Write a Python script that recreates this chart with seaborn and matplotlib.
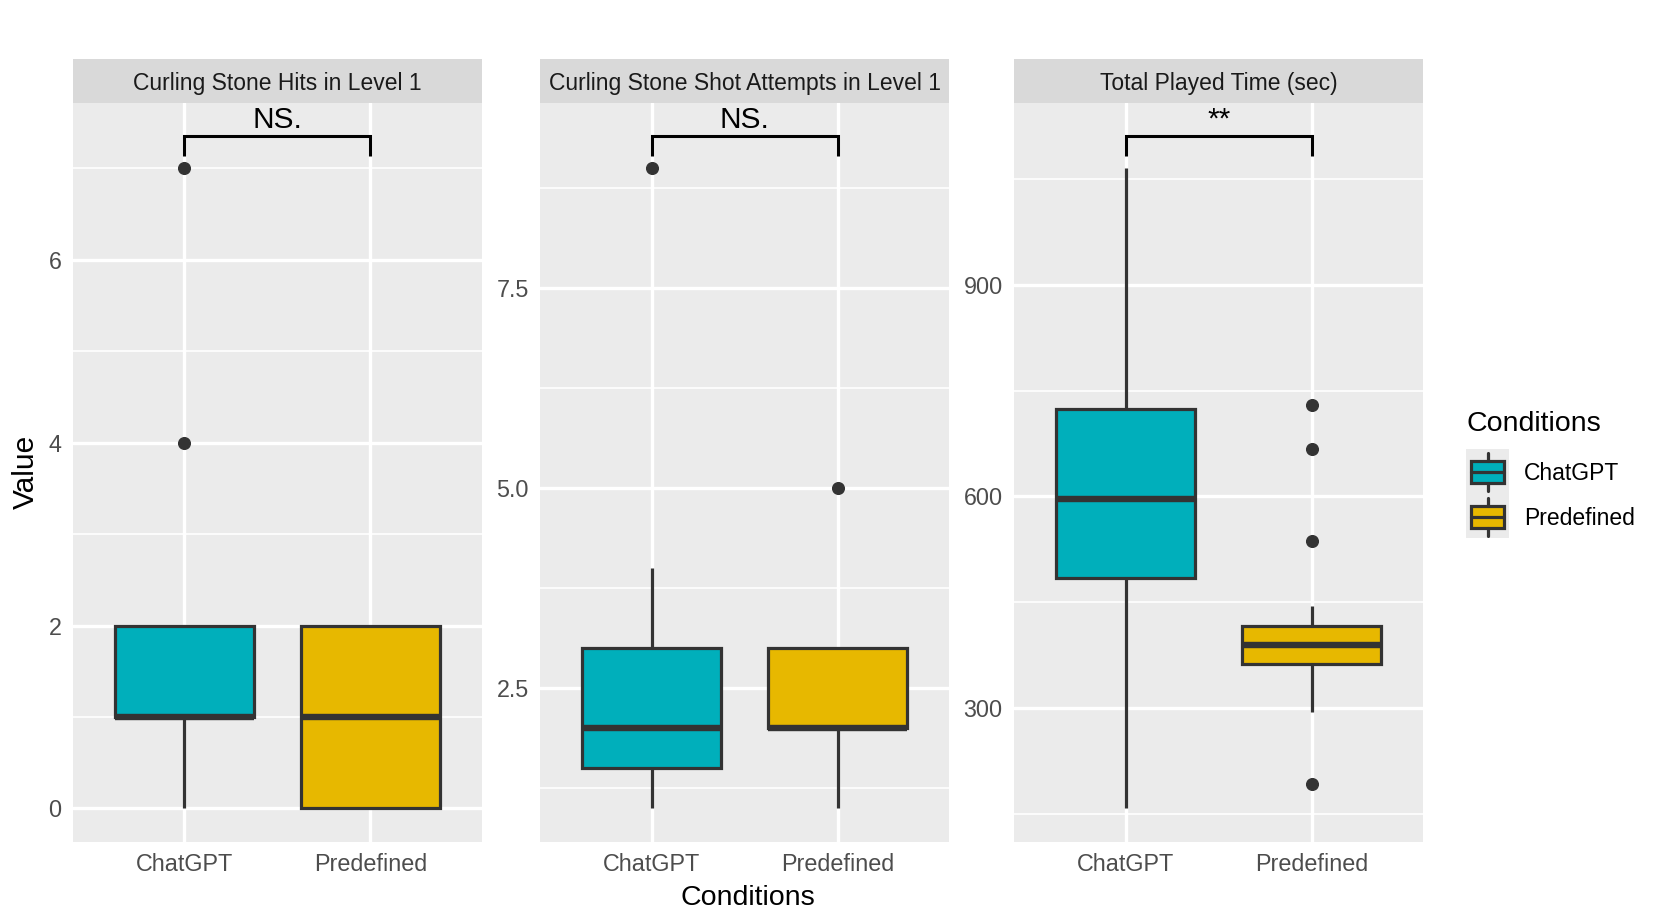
import matplotlib
matplotlib.use('Agg')
import matplotlib.pyplot as plt
import seaborn as sns
import numpy as np
import pandas as pd
from matplotlib.patches import Rectangle

# ---- data ----
conditions = ['ChatGPT', 'Predefined']
colors = ['#00AFBB', '#E7B800']
panel_titles = ['Curling Stone Hits in Level 1',
                'Curling Stone Shot Attempts in Level 1',
                'Total Played Time (sec)']
signif_labels = ['NS.', 'NS.', '**']

hits_chatgpt = [0, 0, 1, 1, 1, 1, 1, 2, 2, 2, 4, 7]
hits_predefined = [0, 0, 0, 0, 1, 1, 1, 2, 2, 2, 2, 2]
shots_chatgpt = [1, 1, 1, 2, 2, 2, 2, 3, 3, 4, 9]
shots_predefined = [1, 2, 2, 2, 2, 2, 3, 3, 3, 3, 5]
time_chatgpt = [158, 380, 450, 519, 560, 597, 650, 700, 749, 900, 1065]
time_predefined = [193, 294, 320, 345, 363, 370, 378, 385, 390, 398, 405,
                   412, 417, 445, 537, 667, 730]

y_ticks = [[0, 2, 4, 6], [2.5, 5.0, 7.5], [300, 600, 900]]
y_ticklabels = [['0', '2', '4', '6'], ['2.5', '5.0', '7.5'], ['300', '600', '900']]

panel_data = [(hits_chatgpt, hits_predefined),
              (shots_chatgpt, shots_predefined),
              (time_chatgpt, time_predefined)]

rows = []
for title, (a, b) in zip(panel_titles, panel_data):
    rows += [(title, conditions[0], v) for v in a]
    rows += [(title, conditions[1], v) for v in b]
df = pd.DataFrame(rows, columns=['Metric', 'Conditions', 'Value'])

# ---- style ----
sns.set_style('white')
plt.rcParams['font.family'] = ['Liberation Sans', 'DejaVu Sans']
palette = dict(zip(conditions, colors))

W, H = 1661, 923
fig = plt.figure(figsize=(W / 100, H / 100), dpi=100)

lefts = [72.7, 540, 1014]
pw = 409.3
top_px, bot_px = 102.7, 842
strip_px = 43.7
strip_h = strip_px / (bot_px - top_px)

for i, title in enumerate(panel_titles):
    ax = fig.add_axes([lefts[i] / W, 1 - bot_px / H, pw / W, (bot_px - top_px) / H])
    sub = df[df['Metric'] == title]
    sns.boxplot(data=sub, x='Conditions', y='Value', hue='Conditions',
                order=conditions, hue_order=conditions, palette=palette,
                saturation=1, width=0.75, linecolor='#333333', linewidth=2.3,
                legend=False, ax=ax, showcaps=False,
                medianprops={'linewidth': 4.6, 'color': '#333333'},
                flierprops={'marker': 'o', 'markersize': 8.4,
                            'markerfacecolor': '#333333',
                            'markeredgecolor': '#333333'})

    # significance bracket, placed like ggsignif (5% step, 3% tips)
    lo, hi = sub['Value'].min(), sub['Value'].max()
    rng = hi - lo
    yb = hi + 0.05 * rng
    tip = 0.03 * rng
    ax.plot([0, 0, 1, 1], [yb - tip, yb, yb, yb - tip], color='black',
            lw=2.2, solid_capstyle='butt', solid_joinstyle='miter', zorder=5)
    ax.annotate(signif_labels[i], xy=(0.5, yb), xytext=(0, 6),
                textcoords='offset points', ha='center', va='baseline',
                fontsize=21.5, color='black')

    pad = 0.05 * (yb - lo)
    ax.set_ylim(lo - pad, yb + pad)
    ax.set_xlim(-0.6, 1.6)

    majors = np.array(y_ticks[i], dtype=float)
    step = majors[1] - majors[0]
    minors = np.concatenate([majors - step / 2, [majors[-1] + step / 2]])
    ymin, ymax = ax.get_ylim()
    minors = minors[(minors > ymin) & (minors < ymax)]
    ax.set_yticks(majors)
    ax.set_yticklabels(y_ticklabels[i])
    ax.set_yticks(minors, minor=True)

    ax.set_facecolor('#EBEBEB')
    ax.set_axisbelow(True)
    ax.grid(True, which='major', color='white', lw=2.4)
    ax.grid(True, which='minor', axis='y', color='white', lw=1.2)
    for s in ax.spines.values():
        s.set_visible(False)
    ax.tick_params(axis='both', which='major', length=4.6, width=2.2,
                   color='#333333', labelcolor='#4D4D4D', labelsize=16.8, pad=3.5)
    ax.tick_params(axis='y', which='minor', length=0)
    ax.set_xlabel('')
    ax.set_ylabel('')

    # facet strip
    ax.add_patch(Rectangle((0, 1), 1, strip_h, transform=ax.transAxes,
                           clip_on=False, facecolor='#D9D9D9', edgecolor='none'))
    ax.text(0.5, 1 + strip_h / 2, title, transform=ax.transAxes,
            ha='center', va='center_baseline', fontsize=16.5, color='#1A1A1A')

# axis titles
fig.text(26 / W, 1 - 472 / H, 'Value', rotation=90, ha='center', va='center',
         fontsize=21.5, color='black')
fig.text(748 / W, 1 - 898 / H, 'Conditions', ha='center', va='center',
         fontsize=20.5, color='black')

# legend drawn as boxplot keys, like ggplot
leg_left, leg_top = 1465.7, 449
key_w, key_h = 43.7, 44.7
lax = fig.add_axes([leg_left / W, 1 - (leg_top + 2 * key_h) / H,
                    (W - leg_left) / W, 2 * key_h / H])
lax.set_xlim(0, W - leg_left)
lax.set_ylim(2 * key_h, 0)
lax.axis('off')
for k, (cond, col) in enumerate(zip(conditions, colors)):
    y0 = k * key_h
    lax.add_patch(Rectangle((0, y0), key_w, key_h, facecolor='#EBEBEB', edgecolor='none'))
    lax.add_patch(Rectangle((0.12 * key_w, y0 + 0.27 * key_h), 0.76 * key_w,
                            0.5 * key_h, facecolor=col, edgecolor='#333333', lw=2.3))
    lax.plot([0.12 * key_w, 0.88 * key_w], [y0 + 0.52 * key_h] * 2,
             color='#333333', lw=2.3)
    lax.plot([key_w / 2] * 2, [y0 + 0.1 * key_h, y0 + 0.27 * key_h], color='#333333', lw=2.3)
    lax.plot([key_w / 2] * 2, [y0 + 0.77 * key_h, y0 + 0.94 * key_h], color='#333333', lw=2.3)
    lax.text(1524 - leg_left, y0 + key_h / 2, cond, ha='left', va='center_baseline',
             fontsize=16.5, color='black')
fig.text(1466 / W, 1 - 424 / H, 'Conditions', ha='left', va='center',
         fontsize=20.5, color='black')

fig.savefig('out.png', dpi=100)
